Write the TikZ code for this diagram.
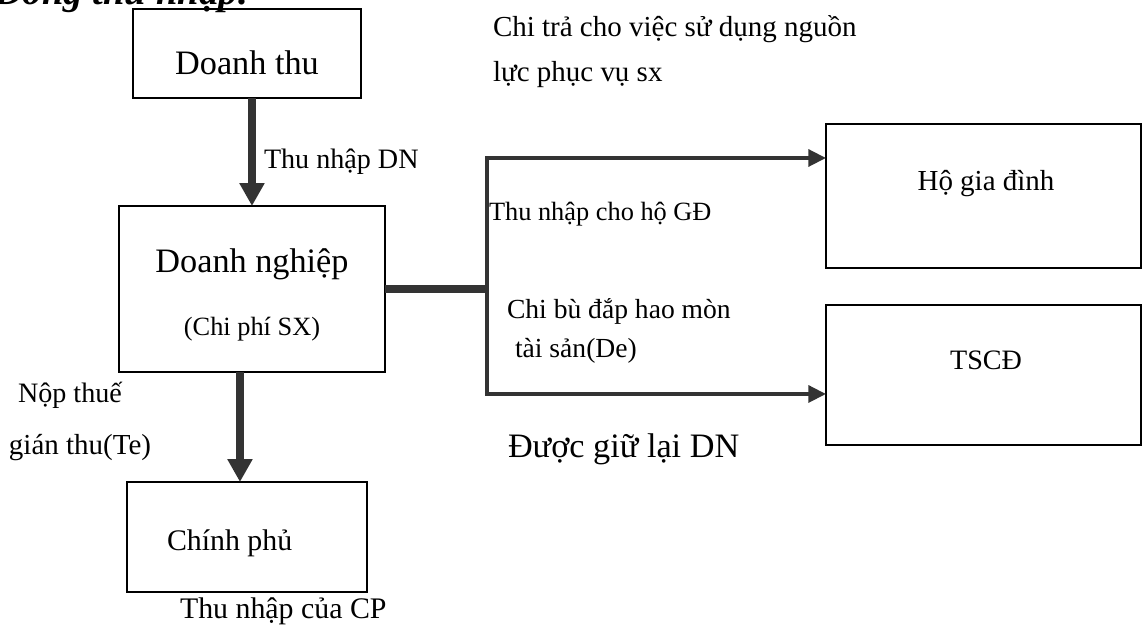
\documentclass[tikz,border=0pt]{standalone}
\usepackage{fontspec}
\setmainfont{Liberation Serif}
\usetikzlibrary{arrows.meta}
\newcommand{\fsz}[1]{\fontsize{#1}{#1}\selectfont}

\begin{document}
\begin{tikzpicture}[x=0.02cm, y=-0.02cm,
    box/.style={draw, line width=1.1pt, inner sep=0pt, outer sep=0pt, anchor=north west},
    txt/.style={inner sep=0pt, outer sep=0pt},
    bigarrow/.style={draw=black!80, line width=4.5pt, -{Triangle[length=13pt, width=13.5pt]}},
    thinarrow/.style={draw=black!80, line width=2.2pt, -{Triangle[length=10pt, width=9.5pt]}}]
      \useasboundingbox (0,0) rectangle (1142,642);
      % Tieu de (bi cat o tren)
      \node[txt, anchor=base west, font=\fsz{22}\bfseries\itshape] (tieude) at (-5,5) {Dòng thu nhập:};
      % Cac hop
      \node[box, minimum width=4.56cm, minimum height=1.78cm] (dt) at (133,9) {};
      \node[box, minimum width=5.32cm, minimum height=3.32cm] (dn) at (119,206) {};
      \node[box, minimum width=4.80cm, minimum height=2.20cm] (cp) at (127,482) {};
      \node[box, minimum width=6.30cm, minimum height=2.88cm] (hgd) at (826,124) {};
      \node[box, minimum width=6.30cm, minimum height=2.80cm] (tscd) at (826,305) {};
      % Chu trong hop
      \node[txt, anchor=base, font=\fsz{19.5}] (tdt) at (247,75) {Doanh thu};
      \node[txt, anchor=base, font=\fsz{19.5}] (tdn) at (252,272) {Doanh nghiệp};
      \node[txt, anchor=base, font=\fsz{15}] (tcpsx) at (252,335) {(Chi phí SX)};
      \node[txt, anchor=base west, font=\fsz{17}] (tcp) at (167,550) {Chính phủ};
      \node[txt, anchor=base, font=\fsz{16.5}] (thgd) at (986,190) {Hộ gia đình};
      \node[txt, anchor=base, font=\fsz{16}] (ttscd) at (986,369) {TSCĐ};
      % Mui ten doc
      \draw[bigarrow] (dt.south -| dn.north) -- (dn.north);
      \draw[bigarrow] ([xshift=-0.24cm]dn.south) -- ([xshift=-0.24cm]dn.south |- cp.north);
      % Nhanh sang phai
      \coordinate (tach) at (487,289);
      \coordinate (vaohgd) at ([yshift=-0.68cm]hgd.north west);
      \coordinate (vaotscd) at ([yshift=-1.78cm]tscd.north west);
      \draw[draw=black!80, line width=4.5pt] (dn.east |- tach) -- (tach);
      \draw[thinarrow] (tach) |- (vaohgd);
      \draw[thinarrow] (tach) |- (vaotscd);
      % Nhan
      \node[txt, anchor=base west, font=\fsz{16}] (lthu) at (264,168) {Thu nhập DN};
      \node[txt, anchor=base west, font=\fsz{16.5}] (lchi1) at (493,37) {Chi trả cho việc sử dụng nguồn};
      \node[txt, anchor=base west, font=\fsz{16.5}] (lchi2) at (493,82) {lực phục vụ sx};
      \node[txt, anchor=base west, font=\fsz{15}] (lhgd) at (489,220) {Thu nhập cho hộ GĐ};
      \node[txt, anchor=base west, font=\fsz{15.7}] (lbu1) at (507,318) {Chi bù đắp hao mòn};
      \node[txt, anchor=base west, font=\fsz{15.7}] (lbu2) at (515,357) {tài sản(De)};
      \node[txt, anchor=base west, font=\fsz{19.5}] (lgiu) at (508,457) {Được giữ lại DN};
      \node[txt, anchor=base west, font=\fsz{16}] (lthue1) at (18,402) {Nộp thuế};
      \node[txt, anchor=base west, font=\fsz{16.5}] (lthue2) at (9,454) {gián thu(Te)};
      \node[txt, anchor=base west, font=\fsz{17}] (lcp) at (180,618) {Thu nhập của CP};
\end{tikzpicture}
\end{document}
